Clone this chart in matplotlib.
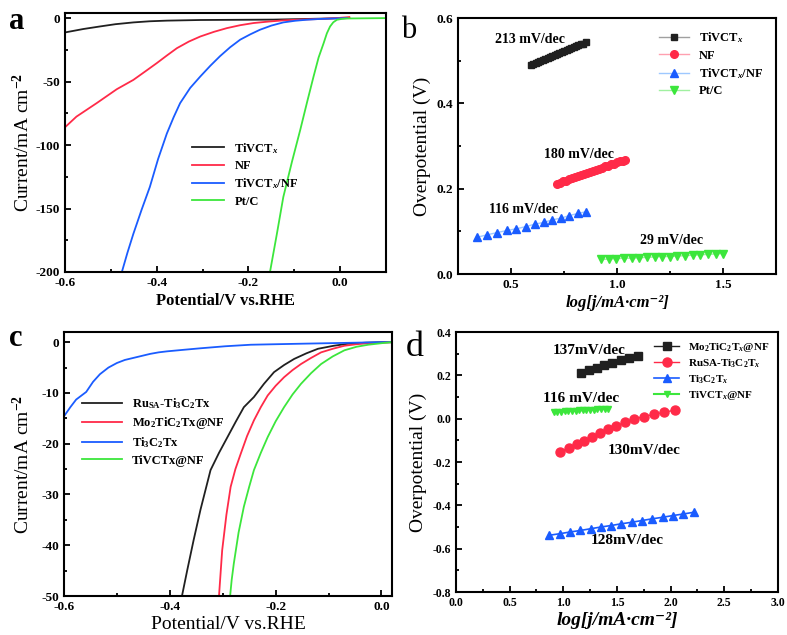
import matplotlib
matplotlib.use('Agg')
import matplotlib.pyplot as plt
import numpy as np

plt.rcParams['font.family'] = ['Liberation Serif', 'DejaVu Serif']
plt.rcParams['mathtext.fontset'] = 'custom'
plt.rcParams['mathtext.rm'] = 'Liberation Serif:bold'
plt.rcParams['mathtext.it'] = 'Liberation Serif:italic:bold'
plt.rcParams['mathtext.bf'] = 'Liberation Serif:bold'
plt.rcParams['axes.unicode_minus'] = False
plt.rcParams['axes.linewidth'] = 1.5

BLACK = '#202020'
RED = '#ff2a48'
BLUE = '#1a5cff'
GREEN = '#3ce63c'

# ---- panel a : LSV curves
a_tivct_x = [-0.600, -0.560, -0.524, -0.490, -0.451, -0.415, -0.378, -0.305, -0.200, -0.145, -0.050, 0.020]
a_tivct_y = [-11.3, -8.6, -6.6, -4.8, -3.4, -2.5, -2.0, -1.5, -1.3, -1.2, -0.5, 0.0]
a_nf_x = [-0.600, -0.575, -0.531, -0.487, -0.451, -0.425, -0.400, -0.378, -0.356, -0.330, -0.305,
          -0.275, -0.247, -0.218, -0.189, -0.155, -0.124, -0.090, -0.051, 0.000, 0.020]
a_nf_y = [-86.0, -77.6, -67.0, -56.0, -48.7, -42.0, -35.5, -29.5, -23.7, -18.5, -14.5,
          -10.8, -7.9, -5.6, -3.9, -2.7, -1.8, -1.2, -0.8, 0.2, 0.8]
a_tivctnf_x = [-0.476, -0.464, -0.451, -0.433, -0.415, -0.397, -0.378, -0.363, -0.349, -0.327, -0.305,
               -0.283, -0.262, -0.240, -0.218, -0.196, -0.175, -0.150, -0.124, -0.098, -0.073, -0.045,
               -0.015, 0.015]
a_tivctnf_y = [-200.0, -185.0, -170.0, -151.0, -133.0, -111.0, -91.0, -78.0, -67.0, -55.0, -46.0,
               -37.5, -30.0, -23.0, -17.0, -12.8, -9.2, -5.9, -3.4, -2.1, -1.3, -0.7,
               -0.3, 0.0]
a_ptc_x = [-0.153, -0.138, -0.124, -0.105, -0.087, -0.072, -0.058, -0.047, -0.036, -0.029, -0.022,
           -0.015, -0.007, 0.004, 0.015, 0.100]
a_ptc_y = [-200.0, -170.0, -141.0, -113.0, -88.0, -66.0, -46.0, -31.0, -19.7, -12.0, -6.6,
           -3.3, -1.3, -0.6, -0.3, 0.0]

# ---- panel b : Tafel
b_tivct_x = [0.594, 0.605, 0.616, 0.627, 0.638, 0.650, 0.661, 0.672, 0.683, 0.694, 0.706, 0.717,
             0.728, 0.739, 0.750, 0.762, 0.773, 0.784, 0.795, 0.806, 0.818, 0.829, 0.840, 0.852]
b_tivct_y = [0.491, 0.493, 0.495, 0.498, 0.500, 0.502, 0.504, 0.507, 0.509, 0.511, 0.513, 0.516,
             0.518, 0.520, 0.522, 0.525, 0.527, 0.529, 0.531, 0.534, 0.536, 0.538, 0.540, 0.543]
b_nf_x = [0.719, 0.733, 0.747, 0.761, 0.775, 0.789, 0.803, 0.817, 0.831, 0.845, 0.859, 0.873,
          0.887, 0.901, 0.915, 0.929, 0.943, 0.957, 0.971, 0.985, 0.999, 1.013, 1.027, 1.039]
b_nf_y = [0.212, 0.214, 0.217, 0.219, 0.222, 0.224, 0.227, 0.229, 0.232, 0.234, 0.237, 0.239,
          0.242, 0.244, 0.247, 0.249, 0.252, 0.254, 0.257, 0.259, 0.262, 0.264, 0.266, 0.268]
b_tivctnf_x = [0.339, 0.388, 0.434, 0.480, 0.525, 0.569, 0.613, 0.655, 0.695, 0.736, 0.775, 0.816, 0.855]
b_tivctnf_y = [0.086, 0.092, 0.097, 0.102, 0.106, 0.111, 0.117, 0.121, 0.127, 0.131, 0.137, 0.142, 0.146]
b_ptc_x = [0.925, 0.961, 0.997, 1.033, 1.069, 1.105, 1.141, 1.177, 1.213, 1.249, 1.285, 1.321,
           1.357, 1.393, 1.429, 1.465, 1.500]
b_ptc_y = [0.034, 0.035, 0.036, 0.037, 0.037, 0.038, 0.039, 0.040, 0.041, 0.041, 0.042, 0.043,
           0.044, 0.045, 0.046, 0.047, 0.048]

# ---- panel c : LSV comparison
c_ru_x = [-0.377, -0.367, -0.355, -0.342, -0.323, -0.307, -0.291, -0.275, -0.260, -0.241, -0.222,
          -0.203, -0.184, -0.165, -0.142, -0.120, -0.090, -0.063, -0.030, 0.000, 0.019]
c_ru_y = [-50.0, -44.9, -39.0, -33.0, -25.2, -21.8, -18.7, -15.6, -12.8, -10.8, -8.2,
          -5.9, -4.5, -3.3, -2.2, -1.3, -0.7, -0.3, -0.1, 0.0, 0.0]
c_mo_x = [-0.307, -0.304, -0.301, -0.293, -0.285, -0.276, -0.266, -0.254, -0.241, -0.228, -0.215,
          -0.200, -0.184, -0.168, -0.152, -0.133, -0.114, -0.092, -0.070, -0.047, -0.025, 0.000, 0.019]
c_mo_y = [-50.0, -45.5, -41.0, -34.0, -28.5, -25.0, -22.0, -18.5, -15.4, -12.8, -10.5,
          -8.6, -6.9, -5.5, -4.3, -3.1, -2.0, -1.3, -0.7, -0.4, -0.2, -0.1, 0.0]
c_ti_x = [-0.600, -0.588, -0.577, -0.558, -0.545, -0.532, -0.516, -0.500, -0.485, -0.469, -0.453,
          -0.437, -0.421, -0.405, -0.374, -0.342, -0.295, -0.247, -0.200, -0.152, -0.076, 0.000, 0.019]
c_ti_y = [-14.6, -12.8, -11.3, -9.8, -7.8, -6.3, -5.0, -4.1, -3.5, -3.1, -2.7,
          -2.3, -2.0, -1.8, -1.5, -1.2, -0.8, -0.5, -0.4, -0.3, -0.15, 0.0, 0.0]
c_tivct_x = [-0.286, -0.283, -0.279, -0.270, -0.260, -0.250, -0.241, -0.228, -0.215, -0.200, -0.184,
             -0.168, -0.152, -0.133, -0.114, -0.092, -0.070, -0.047, -0.025, 0.000, 0.019]
c_tivct_y = [-50.0, -46.8, -43.6, -37.5, -32.4, -28.5, -25.2, -21.8, -18.7, -15.6, -12.8,
             -10.3, -8.2, -6.1, -4.3, -2.8, -1.6, -0.9, -0.5, -0.2, 0.0]

# ---- panel d : Tafel comparison
d_mo_x = [1.165, 1.240, 1.310, 1.380, 1.456, 1.534, 1.614, 1.692]
d_mo_y = [0.211, 0.223, 0.235, 0.248, 0.258, 0.269, 0.280, 0.291]
d_ru_x = [0.970, 1.054, 1.125, 1.196, 1.267, 1.342, 1.419, 1.490, 1.574, 1.658, 1.750, 1.846, 1.940, 2.045]
d_ru_y = [-0.154, -0.134, -0.118, -0.103, -0.085, -0.066, -0.048, -0.034, -0.017, -0.002, 0.010, 0.020, 0.030, 0.040]
d_ti_x = [0.870, 0.966, 1.062, 1.158, 1.254, 1.350, 1.446, 1.542, 1.638, 1.734, 1.830, 1.926, 2.022, 2.118, 2.214]
d_ti_y = [-0.538, -0.531, -0.523, -0.516, -0.508, -0.500, -0.493, -0.485, -0.478, -0.470, -0.462, -0.455,
          -0.447, -0.440, -0.432]
d_tivct_x = [0.910, 0.944, 0.978, 1.012, 1.046, 1.080, 1.114, 1.148, 1.182, 1.216, 1.250, 1.284,
             1.318, 1.352, 1.386, 1.420]
d_tivct_y = [0.031, 0.032, 0.033, 0.034, 0.035, 0.036, 0.037, 0.038, 0.039, 0.040, 0.041, 0.042,
             0.043, 0.044, 0.045, 0.046]

fig = plt.figure(figsize=(7.87, 6.35), dpi=100)
axa = fig.add_axes([0.0826, 0.5717, 0.4079, 0.4078])
axb = fig.add_axes([0.5820, 0.5685, 0.4041, 0.4031])
axc = fig.add_axes([0.0813, 0.0614, 0.4168, 0.4157])
axd = fig.add_axes([0.5794, 0.0677, 0.4091, 0.4094])


def estilo(ax, size=9.5):
    ax.tick_params(which='both', direction='in', top=False, right=False,
                   labelsize=size, width=1.3)
    ax.tick_params(which='major', length=4)
    ax.tick_params(which='minor', length=2.5)
    for lab in ax.get_xticklabels() + ax.get_yticklabels():
        lab.set_fontweight('bold')


# panel a
axa.plot(a_tivct_x, a_tivct_y, color=BLACK, lw=1.3, label='TiVCT$_x$')
axa.plot(a_nf_x, a_nf_y, color=RED, lw=1.3, label='NF')
axa.plot(a_tivctnf_x, a_tivctnf_y, color=BLUE, lw=1.3, label='TiVCT$_x$/NF')
axa.plot(a_ptc_x, a_ptc_y, color=GREEN, lw=1.3, label='Pt/C')
axa.set_xlim(-0.6, 0.1)
axa.set_ylim(-200, 4)
axa.set_xticks([-0.6, -0.4, -0.2, 0.0])
axa.set_xticks([-0.5, -0.3, -0.1, 0.1], minor=True)
axa.set_yticks([0, -50, -100, -150, -200])
axa.set_yticks([-25, -75, -125, -175], minor=True)
axa.set_xlabel('Potential/V vs.RHE', fontsize=12, fontweight='bold', labelpad=3)
axa.set_ylabel('Current/mA cm$^{-2}$', fontsize=14, labelpad=2)
estilo(axa)
axa.legend(loc='upper left', bbox_to_anchor=(0.36, 0.55), frameon=False,
           prop={'weight': 'bold', 'size': 9}, handlelength=2.6, labelspacing=0.35)
fig.text(0.012, 0.955, 'a', fontsize=22, fontweight='bold')

# panel b
axb.plot(b_tivct_x, b_tivct_y, color='#a0a0a0', lw=1, marker='s', ms=5,
         mfc=BLACK, mec=BLACK, label='TiVCT$_x$')
axb.plot(b_nf_x, b_nf_y, color='#ffa0b0', lw=1, marker='o', ms=5.5,
         mfc=RED, mec=RED, label='NF')
axb.plot(b_tivctnf_x, b_tivctnf_y, color='#9ec8ff', lw=1, marker='^', ms=5.5,
         mfc=BLUE, mec=BLUE, label='TiVCT$_x$/NF')
axb.plot(b_ptc_x, b_ptc_y, color='#a0f0a0', lw=1, marker='v', ms=5.5,
         mfc=GREEN, mec=GREEN, label='Pt/C')
axb.set_xlim(0.25, 1.75)
axb.set_ylim(0, 0.6)
axb.set_xticks([0.5, 1.0, 1.5])
axb.set_xticks([0.75, 1.25], minor=True)
axb.set_yticks([0.0, 0.2, 0.4, 0.6])
axb.set_yticks([0.1, 0.3, 0.5], minor=True)
axb.set_xlabel('log[j/mA·cm⁻²]', fontsize=12, fontweight='bold', fontstyle='italic', labelpad=3)
axb.set_ylabel('Overpotential (V)', fontsize=14, labelpad=4)
estilo(axb)
axb.legend(loc='upper right', frameon=False, prop={'weight': 'bold', 'size': 9},
           handlelength=2.4, labelspacing=0.35, borderaxespad=0.6)
axb.text(0.588, 0.549, '213 mV/dec', fontsize=10, fontweight='bold', ha='center', va='center')
axb.text(0.820, 0.279, '180 mV/dec', fontsize=10, fontweight='bold', ha='center', va='center')
axb.text(0.558, 0.152, '116 mV/dec', fontsize=10, fontweight='bold', ha='center', va='center')
axb.text(1.258, 0.078, '29 mV/dec', fontsize=10, fontweight='bold', ha='center', va='center')
fig.text(0.510, 0.940, 'b', fontsize=22)

# panel c
axc.plot(c_ru_x, c_ru_y, color=BLACK, lw=1.3, label=r'Ru$_{\mathrm{SA}}$-Ti$_3$C$_2$Tx')
axc.plot(c_mo_x, c_mo_y, color=RED, lw=1.3, label='Mo$_2$TiC$_2$Tx@NF')
axc.plot(c_ti_x, c_ti_y, color=BLUE, lw=1.3, label='Ti$_3$C$_2$Tx')
axc.plot(c_tivct_x, c_tivct_y, color=GREEN, lw=1.3, label='TiVCTx@NF')
axc.set_xlim(-0.6, 0.02)
axc.set_ylim(-50, 2)
axc.set_xticks([-0.6, -0.4, -0.2, 0.0])
axc.set_xticks([-0.5, -0.3, -0.1], minor=True)
axc.set_yticks([0, -10, -20, -30, -40, -50])
axc.set_yticks([-5, -15, -25, -35, -45], minor=True)
axc.set_xlabel('Potential/V vs.RHE', fontsize=14, labelpad=2)
axc.set_ylabel('Current/mA cm$^{-2}$', fontsize=14, labelpad=6)
estilo(axc)
axc.legend(loc='upper left', bbox_to_anchor=(0.02, 0.8), frameon=False,
           prop={'weight': 'bold', 'size': 9}, handlelength=3.2, labelspacing=0.35)
fig.text(0.012, 0.455, 'c', fontsize=22, fontweight='bold')

# panel d
axd.plot(d_mo_x, d_mo_y, color=BLACK, lw=1, marker='s', ms=6,
         mfc=BLACK, mec=BLACK, label='Mo$_2$TiC$_2$T$_x$@NF')
axd.plot(d_ru_x, d_ru_y, color=RED, lw=1, marker='o', ms=6.5,
         mfc=RED, mec=RED, label='RuSA-Ti$_3$C$_2$T$_x$')
axd.plot(d_ti_x, d_ti_y, color=BLUE, lw=1.2, marker='^', ms=6,
         mfc=BLUE, mec=BLUE, label='Ti$_3$C$_2$T$_x$')
axd.plot(d_tivct_x, d_tivct_y, color=GREEN, lw=1.5, marker='v', ms=5,
         mfc=GREEN, mec=GREEN, label='TiVCT$_x$@NF')
axd.set_xlim(0, 3)
axd.set_ylim(-0.8, 0.4)
axd.set_xticks([0.0, 0.5, 1.0, 1.5, 2.0, 2.5, 3.0])
axd.set_xticks([0.25, 0.75, 1.25, 1.75, 2.25, 2.75], minor=True)
axd.set_yticks([0.4, 0.2, 0.0, -0.2, -0.4, -0.6, -0.8])
axd.set_yticks([0.3, 0.1, -0.1, -0.3, -0.5, -0.7], minor=True)
axd.set_xlabel('log[j/mA·cm⁻²]', fontsize=14, fontweight='bold', fontstyle='italic', labelpad=2)
axd.set_ylabel('Overpotential (V)', fontsize=14, labelpad=4)
estilo(axd, size=8.5)
axd.legend(loc='upper right', frameon=False, prop={'weight': 'bold', 'size': 8},
           handlelength=2.2, labelspacing=0.3, borderaxespad=0.4)
axd.text(1.240, 0.315, '137mV/dec', fontsize=11, fontweight='bold', ha='center', va='center')
axd.text(1.170, 0.095, '116 mV/dec', fontsize=11, fontweight='bold', ha='center', va='center')
axd.text(1.754, -0.146, '130mV/dec', fontsize=11, fontweight='bold', ha='center', va='center')
axd.text(1.600, -0.561, '128mV/dec', fontsize=11, fontweight='bold', ha='center', va='center')
fig.text(0.515, 0.440, 'd', fontsize=26)

plt.savefig('out.png', dpi=100)
